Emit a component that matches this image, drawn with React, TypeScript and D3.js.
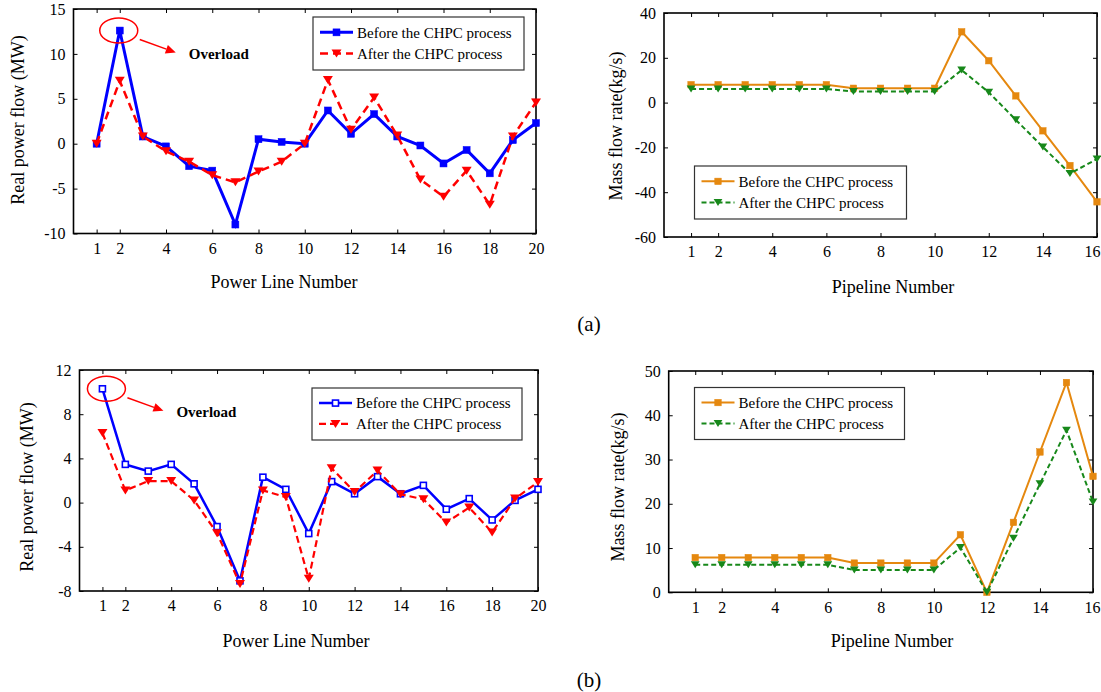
import React, { useEffect, useRef } from "react";
import * as d3 from "d3";

// categories
const lineNumbers = [1, 2, 3, 4, 5, 6, 7, 8, 9, 10, 11, 12, 13, 14, 15, 16, 17, 18, 19, 20];
const pipeNumbers = [1, 2, 3, 4, 5, 6, 7, 8, 9, 10, 11, 12, 13, 14, 15, 16];

// tick labels
const lineTicks = [1, 2, 4, 6, 8, 10, 12, 14, 16, 18, 20];
const pipeTicks = [1, 2, 4, 6, 8, 10, 12, 14, 16];
const powerTicksA = [-10, -5, 0, 5, 10, 15];
const massTicksA = [-60, -40, -20, 0, 20, 40];
const powerTicksB = [-8, -4, 0, 4, 8, 12];
const massTicksB = [0, 10, 20, 30, 40, 50];

// (a) real power flow (MW)
const powerBeforeA = [0, 12.6, 0.8, -0.3, -2.5, -3.0, -9.0, 0.5, 0.2, 0, 3.7, 1.1, 3.3, 0.8, -0.2, -2.2, -0.7, -3.3, 0.4, 2.3];
const powerAfterA = [0, 7.0, 0.8, -0.85, -2.0, -3.5, -4.3, -3.1, -2.0, 0, 7.1, 1.55, 5.15, 0.9, -4.0, -5.9, -3.0, -6.8, 0.8, 4.6];
// (a) mass flow rate (kg/s)
const massBeforeA = [8, 8, 8, 8, 8, 8, 6.4, 6.4, 6.4, 6.4, 31.6, 18.7, 3.0, -12.6, -28.1, -44.3];
const massAfterA = [6.1, 6.1, 6.1, 6.1, 6.1, 6.1, 4.9, 4.9, 4.9, 4.9, 14.5, 4.6, -7.7, -19.8, -31.7, -25.2];
// (b) real power flow (MW)
const powerBeforeB = [10.3, 3.46, 2.85, 3.46, 1.7, -2.17, -7.08, 2.3, 1.2, -2.8, 1.9, 0.8, 2.35, 0.8, 1.56, -0.6, 0.36, -1.57, 0.2, 1.2];
const powerAfterB = [6.3, 1.1, 1.95, 1.95, 0.2, -2.77, -7.37, 1.1, 0.5, -6.9, 3.1, 0.96, 2.9, 0.75, 0.3, -1.8, -0.45, -2.7, 0.36, 1.86];
// (b) mass flow rate (kg/s)
const massBeforeB = [7.85, 7.85, 7.85, 7.85, 7.85, 7.85, 6.6, 6.6, 6.6, 6.6, 13.0, 0, 15.8, 31.7, 47.4, 26.2];
const massAfterB = [6.2, 6.2, 6.2, 6.2, 6.2, 6.2, 5.06, 5.06, 5.06, 5.06, 10.1, 0, 12.2, 24.5, 36.6, 20.4];

const FONT = "'Liberation Serif', 'Times New Roman', serif";
const BLUE = "#0000ff";
const RED = "#ff0000";
const ORANGE = "#e5880f";
const GREEN = "#17881a";
const WIDTH = 1101;

type Series = {
  values: number[];
  label: string;
  color: string;
  width: number;
  dash: string | null;
  marker: "square" | "hollow" | "tri";
  size: number;
};

type Panel = {
  box: [number, number, number, number]; // left, top, right, bottom
  xDomain: [number, number];
  yDomain: [number, number];
  cats: number[];
  xTicks: number[];
  yTicks: number[];
  xLabel: string;
  yLabel: string;
  xLabelAt: [number, number];
  yLabelAt: [number, number];
  legend: [number, number, number, number];
  series: Series[];
  overload?: { index: number; dx: number };
};

function marker(g: any, kind: string, x: number, y: number, size: number, color: string) {
  if (kind === "tri") {
    const w = size * 1.25, h = size;
    g.append("path")
      .attr("d", `M${x - w / 2},${y - h / 2}L${x + w / 2},${y - h / 2}L${x},${y + h / 2}Z`)
      .attr("fill", color);
  } else {
    g.append("rect")
      .attr("x", x - size / 2).attr("y", y - size / 2)
      .attr("width", size).attr("height", size)
      .attr("fill", kind === "hollow" ? "#fff" : color)
      .attr("stroke", color).attr("stroke-width", kind === "hollow" ? 1.6 : 0.5);
  }
}

function drawPanel(svg: any, p: Panel) {
  const [left, top, right, bottom] = p.box;
  const x = d3.scaleLinear().domain(p.xDomain).range([left, right]);
  const y = d3.scaleLinear().domain(p.yDomain).range([bottom, top]);
  const g = svg.append("g");
  const fmt = (d: any) => String(d);

  const styleAxis = (a: any) => {
    a.select(".domain").remove();
    a.selectAll("line").attr("stroke", "#000");
    a.selectAll("text").attr("font-family", FONT).attr("font-size", 16).attr("fill", "#000");
  };

  const xAxis = g.append("g").attr("transform", `translate(0,${bottom})`)
    .call(d3.axisBottom(x).tickValues(p.xTicks).tickSizeInner(-4).tickSizeOuter(0).tickPadding(9).tickFormat(fmt))
    .call(styleAxis);
  // keep the last tick label inside the page
  xAxis.selectAll(".tick text").each(function (this: any, d: any) {
    const b = this.getBBox();
    const over = x(d) + b.x + b.width - (WIDTH - 1);
    if (over > 0) d3.select(this).attr("x", -over);
  });
  g.append("g").attr("transform", `translate(0,${top})`)
    .call(d3.axisTop(x).tickValues(p.xTicks).tickSizeInner(-4).tickSizeOuter(0).tickFormat(() => ""))
    .call(styleAxis);
  g.append("g").attr("transform", `translate(${left},0)`)
    .call(d3.axisLeft(y).tickValues(p.yTicks).tickSizeInner(-4).tickSizeOuter(0).tickPadding(8).tickFormat(fmt))
    .call(styleAxis);
  g.append("g").attr("transform", `translate(${right},0)`)
    .call(d3.axisRight(y).tickValues(p.yTicks).tickSizeInner(-4).tickSizeOuter(0).tickFormat(() => ""))
    .call(styleAxis);

  g.append("rect")
    .attr("x", left).attr("y", top).attr("width", right - left).attr("height", bottom - top)
    .attr("fill", "none").attr("stroke", "#000").attr("stroke-width", 1.6);

  // series
  p.series.forEach(s => {
    const line = d3.line<number>().x((_, i) => x(p.cats[i])).y(d => y(d));
    g.append("path").datum(s.values).attr("d", line)
      .attr("fill", "none").attr("stroke", s.color).attr("stroke-width", s.width)
      .attr("stroke-dasharray", s.dash).attr("stroke-linejoin", "miter");
    s.values.forEach((v, i) => marker(g, s.marker, x(p.cats[i]), y(v), s.size, s.color));
  });

  // overload annotation
  if (p.overload) {
    const s = p.series[0];
    const cx = x(p.cats[p.overload.index]) + p.overload.dx;
    const cy = y(s.values[p.overload.index]);
    g.append("ellipse").attr("cx", cx).attr("cy", cy).attr("rx", 19).attr("ry", 12.5)
      .attr("fill", "none").attr("stroke", RED).attr("stroke-width", 1.5);
    const x1 = cx + 21, y1 = cy + 9, x2 = cx + 57, y2 = cy + 22;
    const ang = Math.atan2(y2 - y1, x2 - x1);
    const hl = 10, hw = 4.5;
    const bx = x2 - hl * Math.cos(ang), by = y2 - hl * Math.sin(ang);
    g.append("line").attr("x1", x1).attr("y1", y1).attr("x2", bx).attr("y2", by)
      .attr("stroke", RED).attr("stroke-width", 1.5);
    g.append("path")
      .attr("d", `M${x2},${y2}L${bx - hw * Math.sin(ang)},${by + hw * Math.cos(ang)}L${bx + hw * Math.sin(ang)},${by - hw * Math.cos(ang)}Z`)
      .attr("fill", RED);
    g.append("text").attr("x", cx + 70).attr("y", cy + 28)
      .attr("font-family", FONT).attr("font-size", 15).attr("font-weight", "bold")
      .text("Overload");
  }

  // legend
  const [lx, ly, lw, lh] = p.legend;
  const lg = g.append("g");
  lg.append("rect").attr("x", lx).attr("y", ly).attr("width", lw).attr("height", lh)
    .attr("fill", "#fff").attr("stroke", "#333").attr("stroke-width", 1.2);
  p.series.forEach((s, i) => {
    const ry = ly + lh * (i === 0 ? 0.29 : 0.69);
    lg.append("line").attr("x1", lx + 7).attr("x2", lx + 40).attr("y1", ry).attr("y2", ry)
      .attr("stroke", s.color).attr("stroke-width", s.width).attr("stroke-dasharray", s.dash);
    marker(lg, s.marker, lx + 23.5, ry, s.size, s.color);
    lg.append("text").attr("x", lx + 44).attr("y", ry).attr("dy", "0.35em")
      .attr("font-family", FONT).attr("font-size", 15).text(s.label);
  });

  // axis titles
  g.append("text").attr("x", p.xLabelAt[0]).attr("y", p.xLabelAt[1]).attr("text-anchor", "middle")
    .attr("font-family", FONT).attr("font-size", 18).text(p.xLabel);
  g.append("text").attr("transform", `translate(${p.yLabelAt[0]},${p.yLabelAt[1]}) rotate(-90)`)
    .attr("text-anchor", "middle").attr("dy", "0.35em")
    .attr("font-family", FONT).attr("font-size", 18).text(p.yLabel);
}

const before = "Before the CHPC process";
const after = "After the CHPC process";

const panels: Panel[] = [
  {
    box: [73.5, 9, 536, 233.5], xDomain: [0, 20], yDomain: [-10, 15],
    cats: lineNumbers, xTicks: lineTicks, yTicks: powerTicksA,
    xLabel: "Power Line Number", yLabel: "Real power flow (MW)",
    xLabelAt: [284, 288], yLabelAt: [18, 120],
    legend: [313, 17, 211, 53],
    series: [
      { values: powerBeforeA, label: before, color: BLUE, width: 3, dash: null, marker: "square", size: 7 },
      { values: powerAfterA, label: after, color: RED, width: 2.5, dash: "8,5", marker: "tri", size: 8 },
    ],
    overload: { index: 1, dx: -1 },
  },
  {
    box: [664, 13, 1097, 237], xDomain: [0, 16], yDomain: [-60, 40],
    cats: pipeNumbers, xTicks: pipeTicks, yTicks: massTicksA,
    xLabel: "Pipeline Number", yLabel: "Mass flow rate(kg/s)",
    xLabelAt: [893, 293], yLabelAt: [616, 126],
    legend: [694.5, 166, 212, 53],
    series: [
      { values: massBeforeA, label: before, color: ORANGE, width: 2, dash: null, marker: "square", size: 6.5 },
      { values: massAfterA, label: after, color: GREEN, width: 2, dash: "5,3", marker: "tri", size: 7 },
    ],
  },
  {
    box: [79.5, 370, 538, 591], xDomain: [0, 20], yDomain: [-8, 12],
    cats: lineNumbers, xTicks: lineTicks, yTicks: powerTicksB,
    xLabel: "Power Line Number", yLabel: "Real power flow (MW)",
    xLabelAt: [296, 647], yLabelAt: [27, 487],
    legend: [312, 388, 210, 52],
    series: [
      { values: powerBeforeB, label: before, color: BLUE, width: 2.5, dash: null, marker: "hollow", size: 6 },
      { values: powerAfterB, label: after, color: RED, width: 2.2, dash: "7,4", marker: "tri", size: 8 },
    ],
    overload: { index: 0, dx: 4 },
  },
  {
    box: [668.7, 371, 1093, 592.3], xDomain: [0, 16], yDomain: [0, 50],
    cats: pipeNumbers, xTicks: pipeTicks, yTicks: massTicksB,
    xLabel: "Pipeline Number", yLabel: "Mass flow rate(kg/s)",
    xLabelAt: [892, 647], yLabelAt: [618, 487],
    legend: [694.5, 387.5, 210, 52],
    series: [
      { values: massBeforeB, label: before, color: ORANGE, width: 2, dash: null, marker: "square", size: 6.5 },
      { values: massAfterB, label: after, color: GREEN, width: 2, dash: "5,3", marker: "tri", size: 7 },
    ],
  },
];

export default function App() {
  const ref = useRef<SVGSVGElement>(null);

  useEffect(() => {
    const svg = d3.select(ref.current);
    svg.selectAll("*").remove();
    panels.forEach(p => drawPanel(svg, p));
    svg.append("text").attr("x", 589).attr("y", 331).attr("text-anchor", "middle")
      .attr("font-family", FONT).attr("font-size", 21).text("(a)");
    svg.append("text").attr("x", 589).attr("y", 687).attr("text-anchor", "middle")
      .attr("font-family", FONT).attr("font-size", 21).text("(b)");
    return () => { svg.selectAll("*").remove(); };
  }, []);

  return (
    <svg ref={ref} width={WIDTH} height={692}
      style={{ position: "absolute", left: 0, top: 0, background: "#fff" }} />
  );
}
